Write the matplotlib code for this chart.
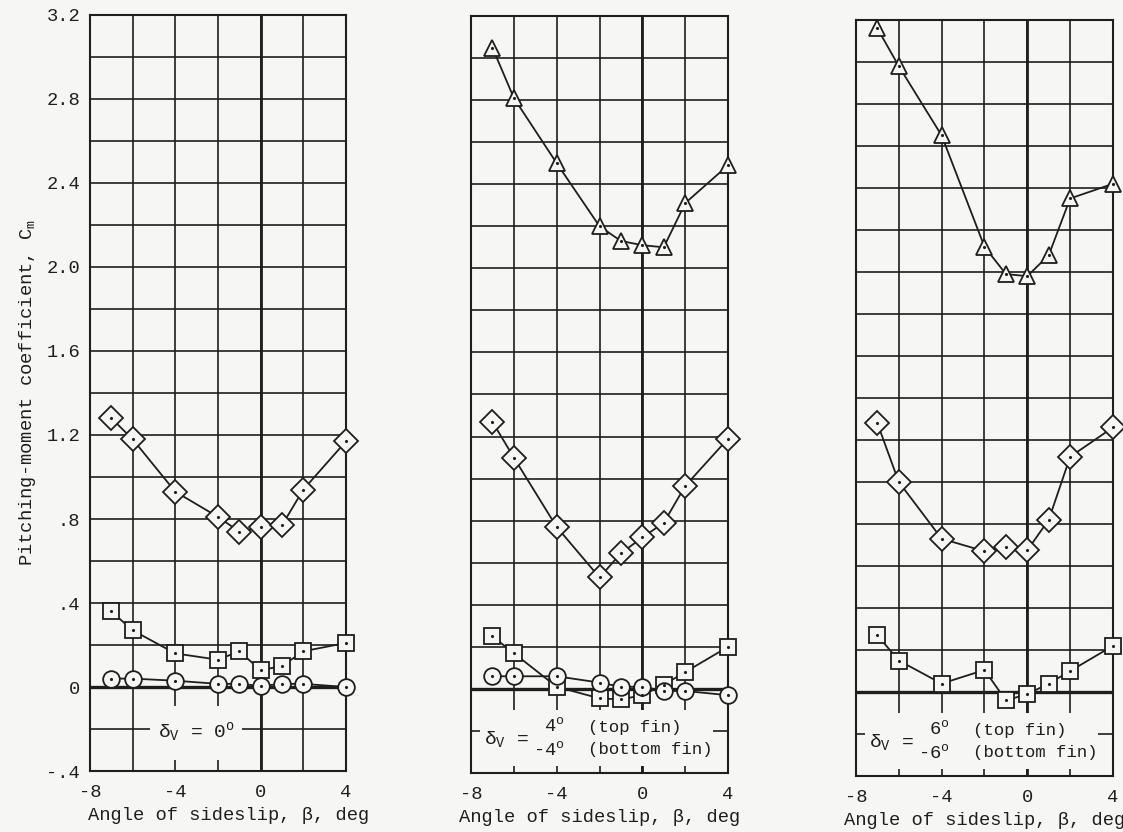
import matplotlib
matplotlib.use("Agg")
import matplotlib.pyplot as plt
from matplotlib.patches import Rectangle
from matplotlib.ticker import MultipleLocator, FixedLocator

plt.rcParams['font.family'] = ['Liberation Mono', 'DejaVu Sans Mono']
plt.rcParams['mathtext.fontset'] = 'custom'
plt.rcParams['mathtext.rm'] = 'Liberation Mono'
plt.rcParams['mathtext.it'] = 'Liberation Mono'

# sideslip angles, deg
beta = [-7, -6, -4, -2, -1, 0, 1, 2, 4]

# panel 1: delta_V = 0
p1_diamond = [1.28, 1.18, 0.93, 0.81, 0.74, 0.76, 0.77, 0.94, 1.17]
p1_square = [0.36, 0.27, 0.16, 0.13, 0.17, 0.08, 0.10, 0.17, 0.21]
p1_circle = [0.04, 0.04, 0.03, 0.015, 0.015, 0.005, 0.015, 0.015, 0.0]

# panel 2: delta_V = 4 (top) / -4 (bottom)
p2_triangle = [3.05, 2.81, 2.50, 2.20, 2.13, 2.11, 2.10, 2.31, 2.49]
p2_diamond = [1.27, 1.10, 0.77, 0.53, 0.645, 0.72, 0.79, 0.965, 1.19]
p2_square = [0.25, 0.17, 0.01, -0.045, -0.05, -0.03, 0.02, 0.08, 0.20]
p2_circle = [0.06, 0.06, 0.06, 0.03, 0.01, 0.01, -0.01, -0.01, -0.03]

# panel 3: delta_V = 6 (top) / -6 (bottom)
p3_triangle = [3.16, 2.98, 2.65, 2.12, 1.99, 1.98, 2.08, 2.35, 2.42]
p3_diamond = [1.28, 1.00, 0.73, 0.67, 0.69, 0.675, 0.82, 1.12, 1.26]
p3_square = [0.27, 0.15, 0.04, 0.105, -0.04, -0.01, 0.04, 0.10, 0.22]

ytick_vals = [-0.4, 0, 0.4, 0.8, 1.2, 1.6, 2.0, 2.4, 2.8, 3.2]
ytick_labels = ['-.4', '0', '.4', '.8', '1.2', '1.6', '2.0', '2.4', '2.8', '3.2']
xtick_vals = [-8, -4, 0, 4]
xtick_labels = ['-8', '-4', '0', '4']

ink = '#1e1e1e'
paper = '#f6f6f4'

fig = plt.figure(figsize=(11.23, 8.32), dpi=100, facecolor=paper)

positions = [
    [0.0801, 0.0733, 0.2280, 0.9087],
    [0.4194, 0.0709, 0.2289, 0.9099],
    [0.7622, 0.0673, 0.2289, 0.9087],
]

panels = [
    [(p1_diamond, 'D', 12), (p1_square, 's', 11), (p1_circle, 'o', 12)],
    [(p2_triangle, '^', 12), (p2_diamond, 'D', 12), (p2_square, 's', 11), (p2_circle, 'o', 12)],
    [(p3_triangle, '^', 12), (p3_diamond, 'D', 12), (p3_square, 's', 11)],
]

for i, pos in enumerate(positions):
    ax = fig.add_axes(pos)
    ax.set_facecolor(paper)
    ax.set_xlim(-8, 4)
    ax.set_ylim(-0.4, 3.2)

    ax.xaxis.set_major_locator(FixedLocator(xtick_vals))
    ax.xaxis.set_minor_locator(MultipleLocator(2))
    ax.yaxis.set_major_locator(FixedLocator(ytick_vals))
    ax.yaxis.set_minor_locator(MultipleLocator(0.2))
    ax.set_xticklabels(xtick_labels)
    if i == 0:
        ax.set_yticklabels(ytick_labels)
        ax.set_ylabel('Pitching-moment coefficient, C$_\\mathrm{m}$',
                      fontsize=13.5, color=ink, labelpad=6)
    else:
        ax.set_yticklabels([])
    ax.tick_params(which='both', length=0, labelsize=13.5, colors=ink)
    ax.tick_params(axis='x', pad=9)
    ax.tick_params(axis='y', pad=7)
    ax.set_xlabel('Angle of sideslip, \u03b2, deg', fontsize=13.5, color=ink)
    ax.xaxis.set_label_coords(0.54 if i == 0 else 0.5, -0.047)

    ax.grid(which='both', color=ink, linewidth=1.2, zorder=0.5)
    ax.set_axisbelow(True)
    for sp in ax.spines.values():
        sp.set_color(ink)
        sp.set_linewidth(1.5)
    ax.axhline(0, color=ink, linewidth=2.4, zorder=1.5)
    ax.axvline(0, color=ink, linewidth=2.0, zorder=1.5)

    # white label area breaking the grid
    if i == 0:
        ax.add_patch(Rectangle((0.234, 0.0145), 0.36, 0.072, transform=ax.transAxes,
                               facecolor=paper, edgecolor='none', zorder=1.8))
        ax.text(0.415, 0.052, '\u03b4$_\\mathrm{V}$ = 0$^\\mathrm{o}$', transform=ax.transAxes,
                ha='center', va='center', fontsize=14, color=ink, zorder=5)
    else:
        ax.add_patch(Rectangle((0.035, 0.009), 0.905, 0.074, transform=ax.transAxes,
                               facecolor=paper, edgecolor='none', zorder=1.8))
        deg = '4' if i == 1 else '6'
        ax.text(0.05, 0.045, '\u03b4$_\\mathrm{V}$ =', transform=ax.transAxes,
                ha='left', va='center', fontsize=14, color=ink, zorder=5)
        ax.text(0.365, 0.046, '%s$^\\mathrm{o}$\n-%s$^\\mathrm{o}$' % (deg, deg),
                transform=ax.transAxes, ha='right', va='center', fontsize=13.5,
                color=ink, linespacing=1.45, multialignment='right', zorder=5)
        ax.text(0.455, 0.046, '(top fin)\n(bottom fin)', transform=ax.transAxes,
                ha='left', va='center', fontsize=12.5, color=ink,
                linespacing=1.6, zorder=5)

    for vals, mk, ms in panels[i]:
        ax.plot(beta, vals, color=ink, linewidth=1.3, marker=mk, markersize=ms,
                markerfacecolor=paper, markeredgecolor=ink, markeredgewidth=1.3,
                zorder=3, clip_on=False)
        ax.plot(beta, vals, linestyle='none', marker='.', markersize=2.5,
                color=ink, zorder=4, clip_on=False)

fig.savefig('out.png', dpi=100, facecolor=paper)
